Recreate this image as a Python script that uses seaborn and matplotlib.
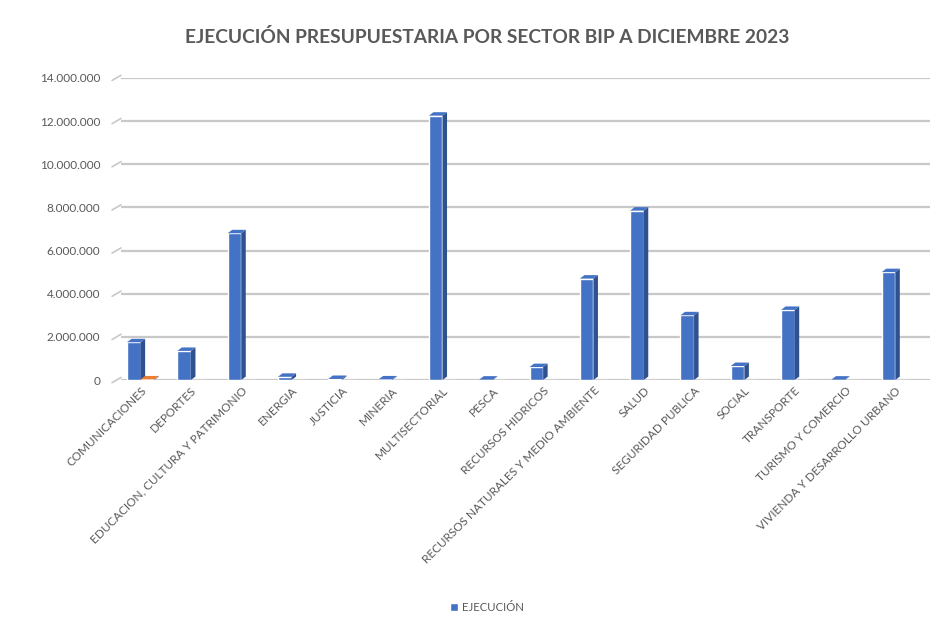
import numpy as np
import pandas as pd
import matplotlib
matplotlib.use("Agg")
import matplotlib.pyplot as plt
from matplotlib.patches import Polygon
from matplotlib.ticker import FuncFormatter
import matplotlib.transforms as mtransforms
import seaborn as sns

# data
sectores = ["COMUNICACIONES", "DEPORTES", "EDUCACION, CULTURA Y PATRIMONIO", "ENERGIA",
            "JUSTICIA", "MINERIA", "MULTISECTORIAL", "PESCA", "RECURSOS HIDRICOS",
            "RECURSOS NATURALES Y MEDIO AMBIENTE", "SALUD", "SEGURIDAD PUBLICA", "SOCIAL",
            "TRANSPORTE", "TURISMO Y COMERCIO", "VIVIENDA Y DESARROLLO URBANO"]
ejecucion = [1750000, 1350000, 6800000, 150000, 50000, 30000, 12250000, 20000, 600000,
             4700000, 7850000, 3000000, 650000, 3250000, 20000, 5000000]
otro = [30000, 0, 0, 0, 0, 0, 0, 0, 0, 0, 0, 0, 0, 0, 0, 0]
yticks = np.arange(0, 14000001, 2000000)

df = pd.DataFrame({
    "sector": sectores * 2,
    "valor": ejecucion + otro,
    "serie": ["EJECUCIÓN"] * len(sectores) + ["OTRO"] * len(sectores),
})

sns.set_style("white")
plt.rcParams["font.family"] = ["Lato", "DejaVu Sans"]
gray = "#595959"
blue = "#4472C4"
orange = "#ED7D31"

fig, ax = plt.subplots(figsize=(9.49, 6.23), dpi=100)
fig.subplots_adjust(left=0.1275, right=0.98, top=0.875, bottom=0.39)

sns.barplot(data=df, x="sector", y="valor", hue="serie", palette=[blue, orange],
            width=0.54, ax=ax, legend=False, saturation=1)

# fake 3D side/top faces like the Excel chart
dx, dy = 0.09, 160000
side_cols = {blue: "#2F528F", orange: "#AE5A21"}
for p in list(ax.patches):
    h = p.get_height()
    if h <= 0:
        continue
    x0, w = p.get_x(), p.get_width()
    fc = matplotlib.colors.to_hex(p.get_facecolor())
    side = side_cols.get(fc, "#2F528F")
    ax.add_patch(Polygon([(x0 + w, 0), (x0 + w + dx, dy), (x0 + w + dx, h + dy), (x0 + w, h)],
                         closed=True, facecolor=side, edgecolor="none", zorder=3))
    ax.add_patch(Polygon([(x0, h), (x0 + dx, h + dy), (x0 + w + dx, h + dy), (x0 + w, h)],
                         closed=True, facecolor=fc, edgecolor="none", zorder=3))

ax.set_ylim(0, 14000000)
ax.set_xlim(-0.39, 15.69)
ax.set_yticks(yticks)
ax.yaxis.set_major_formatter(FuncFormatter(lambda v, _: f"{int(v):,}".replace(",", ".")))
ax.grid(axis="y", color="#C8C8C8", linewidth=1.6)
ax.set_axisbelow(True)
for s in ax.spines.values():
    s.set_visible(False)

# slanted wall edges at the left of each gridline
trans = mtransforms.blended_transform_factory(ax.transAxes, ax.transData)
for v in yticks:
    ax.plot([-0.011, 0.0], [v - 120000, v + 120000], color="#C8C8C8", linewidth=1.2,
            transform=trans, clip_on=False)

ax.tick_params(axis="both", length=0, colors=gray, labelsize=8.5)
ax.tick_params(axis="y", pad=15)
plt.setp(ax.get_xticklabels(), rotation=45, ha="right", rotation_mode="anchor")
ax.set_xlabel("")
ax.set_ylabel("")

fig.suptitle("EJECUCIÓN PRESUPUESTARIA POR SECTOR BIP A DICIEMBRE 2023",
             fontsize=13.8, fontweight="bold", color=gray, x=0.513, y=0.955)

handle = plt.Rectangle((0, 0), 1, 1, facecolor=blue)
fig.legend([handle], ["EJECUCIÓN"], loc="lower center", bbox_to_anchor=(0.513, 0.0),
           frameon=False, fontsize=8.2, handlelength=0.7, handleheight=0.7,
           handletextpad=0.3, labelcolor=gray)

fig.savefig("out.png", dpi=100)
